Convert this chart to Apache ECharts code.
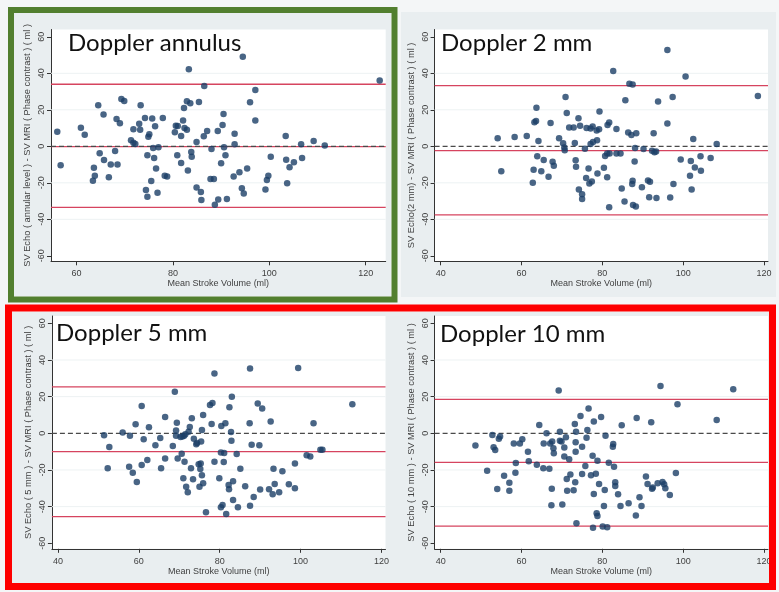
<!DOCTYPE html>
<html>
<head>
<meta charset="utf-8">
<script src="https://cdn.jsdelivr.net/npm/echarts@6/dist/echarts.min.js"></script>
<style>
  html, body { margin: 0; padding: 0; background: #f4f6f7; }
  #main { width: 779px; height: 592px; }
</style>
</head>
<body>
<div id="main"></div>
<script>
// Bland-Altman: Doppler SV vs MRI phase contrast SV, four sampling positions
const panelTitles = ['Doppler annulus', 'Doppler 2 mm', 'Doppler 5 mm', 'Doppler 10 mm'];
const yTitles = [
  'SV Echo ( annular level ) - SV MRI ( Phase contrast ) ( ml )',
  'SV Echo(2 mm) - SV MRI ( Phase contrast ) ( ml )',
  'SV Echo ( 5 mm ) - SV MRI ( Phase contrast ) ( ml )',
  'SV Echo ( 10 mm ) - SV MRI ( Phase contrast ) ( ml )'
];
const xTitle = 'Mean Stroke Volume (ml)';
const xTicksAnnulus = [60, 80, 100, 120];
const xTicks = [40, 60, 80, 100, 120];
const yTicks = [-60, -40, -20, 0, 20, 40, 60];
const gridVals = [-40, -20, 20, 40];

// [upper limit, mean bias, lower limit]
const annulusLimits = [34.0, -0.2, -33.5];
const mm2Limits = [33.2, -2.4, -37.6];
const mm5Limits = [25.3, -10.0, -45.5];
const mm10Limits = [18.5, -15.8, -50.6];

const annulus = [
  [56.0, 8.0], [56.7, -10.4], [60.9, 10.2], [61.7, 6.4], [64.5, 22.5], [65.6, 17.4], [64.8, -3.8], [65.7, -7.5],
  [63.6, -11.7], [63.8, -16.1], [63.4, -18.8], [66.7, -17.0], [67.1, -9.9], [68.0, -2.6], [68.5, -10.0], [68.3, 15.0],
  [69.0, 12.6], [69.3, 25.9], [69.9, 24.8], [71.3, 3.3], [71.8, 9.3], [71.8, 2.0], [72.2, 1.3], [73.0, 12.4],
  [73.2, 9.1], [73.3, 22.5], [74.2, 15.5], [74.4, -23.9], [74.7, -27.6], [74.7, -4.9], [74.9, 5.3], [75.1, 6.6],
  [75.5, -19.0], [75.7, 15.2], [75.9, -0.9], [76.1, -6.4], [76.5, -12.1], [76.3, 11.0], [76.8, -25.4], [77.0, -0.5],
  [77.9, 15.5], [78.3, -16.1], [78.8, -16.6], [80.4, 7.7], [80.6, 11.3], [80.9, -4.9], [81.0, 11.1], [81.7, -9.1],
  [81.7, 5.7], [82.1, 14.1], [82.3, 21.0], [82.4, 10.0], [82.9, 9.1], [83.1, -13.3], [82.9, 24.7], [83.3, 42.2],
  [83.6, 23.6], [83.8, -3.1], [83.9, -5.7], [84.9, 2.4], [84.9, -22.6], [85.4, 24.3], [85.8, -25.0], [85.9, -29.4],
  [86.4, 5.5], [86.5, 33.1], [87.1, 8.4], [88.0, -1.5], [87.8, -17.9], [88.5, -17.9], [88.7, -32.0], [89.3, 8.4],
  [89.4, -29.2], [90.0, -9.3], [90.3, 11.7], [90.5, 17.7], [90.6, -0.5], [90.9, -4.9], [91.2, -28.9], [92.6, -16.6],
  [92.8, 6.9], [92.8, 1.1], [93.8, -14.2], [94.3, -23.0], [94.5, 49.1], [94.7, -25.8], [95.4, -12.2], [96.0, 24.1],
  [97.1, 30.9], [97.1, 14.2], [99.2, -23.6], [99.5, -18.4], [99.8, -16.1], [100.3, -5.7], [103.4, 5.7], [103.5, -7.3],
  [103.7, -20.3], [104.2, -11.5], [105.1, -8.8], [106.6, 1.1], [106.8, -6.4], [109.2, 2.9], [111.5, 0.5], [122.9, 36.0]
];

const mm2 = [
  [54.1, 4.4], [55.0, -13.6], [58.3, 5.1], [61.3, 5.7], [63.2, 13.2], [63.6, 13.8], [63.7, 21.1], [64.2, 2.9],
  [63.9, -5.5], [63.0, -12.8], [62.8, -20.0], [64.9, -13.6], [65.5, -7.5], [66.7, -16.7], [67.2, 12.8], [67.7, -8.4],
  [68.0, -10.6], [69.3, 4.4], [70.3, 1.7], [70.6, -0.6], [70.7, -2.2], [70.9, 27.0], [71.2, 18.3], [71.8, 10.3],
  [72.9, 10.3], [73.2, 1.8], [73.4, -7.7], [73.5, -11.2], [74.1, 15.4], [74.5, 11.2], [74.2, -23.7], [75.0, -26.2],
  [75.0, -28.8], [75.7, -1.3], [76.0, -17.4], [76.1, 10.1], [76.6, -12.1], [76.8, -20.4], [77.1, 9.7], [77.1, 1.3],
  [77.4, -19.3], [77.7, 2.4], [77.6, 10.8], [78.6, 8.6], [78.7, 3.3], [78.8, -14.9], [79.3, 19.1], [79.2, 9.4],
  [80.4, -11.7], [80.7, -5.3], [81.2, -16.9], [81.3, 11.7], [81.2, -3.9], [81.7, 13.0], [81.7, -33.4], [81.8, -3.9],
  [82.7, 41.3], [83.5, 9.5], [83.5, -4.0], [84.5, -4.0], [84.8, -23.1], [85.5, -30.3], [85.7, 25.3], [86.4, 7.5],
  [86.7, 34.3], [87.5, 33.8], [87.2, 6.2], [87.5, -18.9], [87.4, -20.6], [87.6, -32.1], [88.3, -33.0], [88.1, -0.9],
  [88.0, -8.3], [88.4, 7.2], [89.8, -22.4], [90.2, -1.5], [91.3, -18.7], [91.8, -19.4], [91.6, -27.9], [92.3, -2.4],
  [92.7, 7.2], [92.9, -3.3], [93.4, -28.3], [93.8, 24.6], [93.3, -2.9], [96.1, 12.5], [96.1, 52.7], [96.8, -28.1],
  [97.4, 27.0], [97.6, -20.6], [99.4, -7.2], [100.6, 38.3], [101.7, -16.1], [101.9, -8.1], [102.1, -23.7], [102.5, 4.0],
  [102.9, -11.6], [104.3, -5.5], [104.4, -13.4], [106.8, -6.4], [108.3, 1.3], [118.5, 27.5]
];

const mm5 = [
  [51.4, -1.1], [52.7, -7.5], [52.3, -19.1], [56.0, 0.5], [57.8, -1.3], [57.6, -18.2], [58.5, -21.5], [59.2, 4.9],
  [59.5, -26.5], [60.7, 14.9], [60.7, -17.3], [61.2, -3.3], [62.1, -14.5], [62.5, 3.3], [64.1, -6.5], [65.3, -2.5],
  [65.5, -19.1], [66.5, 8.9], [66.5, -13.8], [68.4, -6.9], [68.9, 22.7], [69.2, 1.6], [69.2, -1.3], [69.4, 5.8],
  [69.6, -13.8], [70.3, -2.0], [70.6, -11.1], [70.8, -1.8], [71.2, -1.3], [71.3, -15.5], [71.0, -24.5], [71.5, -0.5],
  [71.7, -29.1], [72.1, -32.2], [72.3, 0.9], [72.6, 3.5], [73.1, 8.2], [72.9, -19.1], [73.4, -25.1], [73.6, -2.9],
  [74.2, -6.0], [74.4, -5.3], [74.8, -16.9], [75.0, -29.1], [75.2, -19.5], [75.4, -4.5], [75.6, 1.8], [75.3, -16.5],
  [75.6, -22.9], [75.9, 10.0], [75.9, -27.3], [76.6, -43.1], [78.0, 5.1], [77.6, 15.5], [78.2, 16.5], [78.7, 32.7],
  [78.7, -15.5], [79.9, -24.5], [80.4, 4.0], [80.3, -10.4], [80.3, -40.4], [80.7, -39.1], [81.1, -10.7], [81.0, -15.6],
  [81.4, 5.5], [81.6, -44.0], [82.2, -28.2], [82.4, 14.2], [82.3, -30.5], [82.8, 0.7], [82.9, -4.0], [83.0, 20.0],
  [83.3, -26.2], [83.3, -36.4], [84.2, -11.3], [84.5, -40.4], [85.1, -19.3], [86.3, -28.9], [87.4, 5.5], [87.5, 35.3],
  [87.5, -39.5], [87.9, -6.2], [88.4, -34.7], [89.4, 16.2], [89.8, -6.5], [90.5, 13.5], [90.0, -30.7], [92.2, -30.5],
  [92.6, 6.5], [93.3, -19.3], [93.1, -33.3], [93.6, -27.6], [94.7, -32.2], [95.5, -20.7], [97.1, -27.8], [98.6, -16.4],
  [98.6, -30.0], [99.4, 35.6], [101.5, -12.0], [102.4, -12.7], [103.2, 5.5], [104.9, -8.9], [105.4, -8.9], [112.8, 15.8]
];

const mm10 = [
  [48.6, -6.7], [51.5, -20.4], [52.8, -0.9], [53.1, -7.6], [53.5, -9.1], [54.0, -30.4], [54.7, -1.8], [54.4, -2.9],
  [55.7, -23.1], [57.0, -26.9], [57.0, -31.3], [58.1, -5.5], [58.6, -16.2], [58.5, -21.5], [59.6, -5.5], [60.2, -3.3],
  [61.6, -10.0], [61.8, -15.3], [63.8, -17.1], [64.4, 4.5], [65.4, -19.1], [65.5, -5.5], [66.2, 0.0], [66.9, -19.3],
  [67.1, -5.5], [67.6, -4.5], [67.9, -8.2], [68.0, -10.9], [67.5, -30.2], [67.4, -39.3], [69.2, 23.3], [69.5, 0.9],
  [69.5, -4.0], [69.9, -4.5], [70.1, -38.9], [70.6, -7.8], [70.6, -12.7], [71.0, -2.2], [71.2, -24.9], [71.3, -31.3],
  [71.8, -14.2], [72.1, -22.4], [72.9, -31.1], [73.2, 5.1], [73.5, 0.9], [73.4, -4.9], [73.4, -10.0], [73.3, -26.7],
  [73.6, -49.1], [74.6, 9.5], [75.0, -7.3], [75.0, -22.2], [75.8, -17.8], [76.3, 1.8], [76.1, -2.4], [76.6, 13.6],
  [77.2, -22.9], [77.6, -12.2], [77.9, 6.4], [77.9, -33.1], [77.7, -51.5], [78.4, -22.0], [78.8, -14.9], [78.6, -43.6],
  [78.8, -45.1], [79.2, -27.6], [79.7, 8.9], [80.1, -50.9], [80.4, -39.6], [80.6, -30.9], [80.8, -1.3], [81.2, -51.3],
  [81.6, -16.0], [82.7, -5.8], [82.6, -7.3], [82.9, -18.2], [83.2, -26.7], [83.2, -28.7], [83.9, -33.3], [84.5, -39.6],
  [84.8, 4.4], [86.5, -38.2], [88.5, 8.4], [88.3, -44.9], [89.2, -34.9], [89.7, -39.6], [90.8, -23.6], [91.2, -27.6],
  [92.1, 6.0], [92.3, -30.2], [92.5, -29.5], [93.7, -27.3], [94.4, 25.8], [94.9, -26.5], [95.3, -27.8], [95.6, -30.0],
  [96.7, -33.6], [98.2, -21.6], [98.6, 15.8], [108.3, 7.3], [112.4, 24.0]
];

const panelData = [annulus, mm2, mm5, mm10];
const panelLimits = [annulusLimits, mm2Limits, mm5Limits, mm10Limits];
const panelXTicks = [xTicksAnnulus, xTicks, xTicks, xTicks];

// layout of each plot region (px) and the x range shown
const layout = [
  { left: 51, top: 29.5, width: 334.7, height: 231.8, xMin: 54.7, xMax: 124.15, tLeft: 68, tTop: 31 },
  { left: 434.6, top: 29.5, width: 333.4, height: 231.8, xMin: 38.5, xMax: 121, tLeft: 441, tTop: 31 },
  { left: 51.9, top: 316, width: 333.6, height: 232.8, xMin: 38.5, xMax: 121, tLeft: 56, tTop: 321 },
  { left: 434.6, top: 316, width: 333.4, height: 232.8, xMin: 38.5, xMax: 121, tLeft: 440, tTop: 322 }
];

const textColor = '#3f3f3f';
const axisColor = '#333';
const dotColor = '#1c3f66';
const limitColor = '#d6445f';

let grids = [], xAxes = [], yAxes = [], series = [], titles = [];

// horizontal reference line across the whole panel, drawn as a 2-point line series
function hLine(i, p, v, style, z) {
  return {
    type: 'line', xAxisIndex: i, yAxisIndex: i, silent: true,
    showSymbol: false, symbol: 'none', z: z,
    lineStyle: style,
    data: [[p.xMin, v], [p.xMax, v]]
  };
}

layout.forEach((p, i) => {
  grids.push({
    left: p.left, top: p.top, width: p.width, height: p.height,
    show: true, backgroundColor: '#ffffff', borderWidth: 0,
    containLabel: false, outerBoundsMode: 'none'
  });
  xAxes.push({
    gridIndex: i, type: 'value', min: p.xMin, max: p.xMax,
    name: xTitle, nameLocation: 'middle', nameGap: 18,
    nameTextStyle: { fontSize: 9, color: textColor, fontFamily: 'Liberation Sans' },
    axisLine: { show: true, onZero: false, lineStyle: { color: axisColor, width: 1 } },
    axisTick: { show: true, length: 4, customValues: panelXTicks[i], lineStyle: { color: axisColor } },
    axisLabel: { customValues: panelXTicks[i], fontSize: 9, color: textColor, margin: 8, fontFamily: 'Liberation Sans' },
    splitLine: { show: false }
  });
  yAxes.push({
    gridIndex: i, type: 'value', min: -63, max: 64,
    name: yTitles[i], nameLocation: 'middle', nameGap: 19, nameRotate: 90,
    nameTextStyle: { fontSize: 9.3, color: textColor, fontFamily: 'Liberation Sans' },
    axisLine: { show: true, onZero: false, lineStyle: { color: axisColor, width: 1 } },
    axisTick: { show: true, length: 4, customValues: yTicks, lineStyle: { color: axisColor } },
    axisLabel: { customValues: yTicks, rotate: 90, fontSize: 9, color: textColor, margin: 5, fontFamily: 'Liberation Sans' },
    splitLine: { show: false }
  });
  gridVals.forEach(v => series.push(hLine(i, p, v, { color: '#edf2f3', width: 1, type: 'solid' }, 1)));
  panelLimits[i].forEach(v => series.push(hLine(i, p, v, { color: limitColor, width: 1.3, type: 'solid' }, 3)));
  series.push(hLine(i, p, 0, { color: '#4a4a4a', width: 1.3, type: [5, 3] }, 4));
  series.push({
    type: 'scatter', xAxisIndex: i, yAxisIndex: i,
    symbol: 'circle', symbolSize: 6.5,
    itemStyle: { color: dotColor },
    data: panelData[i],
    z: 5
  });
  titles.push({
    text: panelTitles[i], left: p.tLeft, top: p.tTop, padding: 0,
    textStyle: { fontSize: 24, fontWeight: 'normal', color: '#111', fontFamily: 'Lato' }
  });
});

const chart = echarts.init(document.getElementById('main'));
chart.setOption({
  backgroundColor: '#f4f6f7',
  animation: false,
  title: titles,
  grid: grids,
  xAxis: xAxes,
  yAxis: yAxes,
  series: series,
  graphic: [
    // light Stata graph regions
    { type: 'rect', z: -10, shape: { x: 14, y: 13, width: 377, height: 283 }, style: { fill: '#e9eef0' } },
    { type: 'rect', z: -10, shape: { x: 401, y: 12, width: 375, height: 285 }, style: { fill: '#e9eef0' } },
    { type: 'rect', z: -10, shape: { x: 12, y: 312, width: 757, height: 271 }, style: { fill: '#e9eef0' } },
    // highlight frames
    { type: 'rect', z: 100, shape: { x: 11, y: 10, width: 383.5, height: 289.5 },
      style: { fill: null, stroke: '#527f2f', lineWidth: 6 } },
    { type: 'rect', z: 100, shape: { x: 8.5, y: 308, width: 764, height: 278.5 },
      style: { fill: null, stroke: '#fe0000', lineWidth: 7 } }
  ]
});
</script>
</body>
</html>
